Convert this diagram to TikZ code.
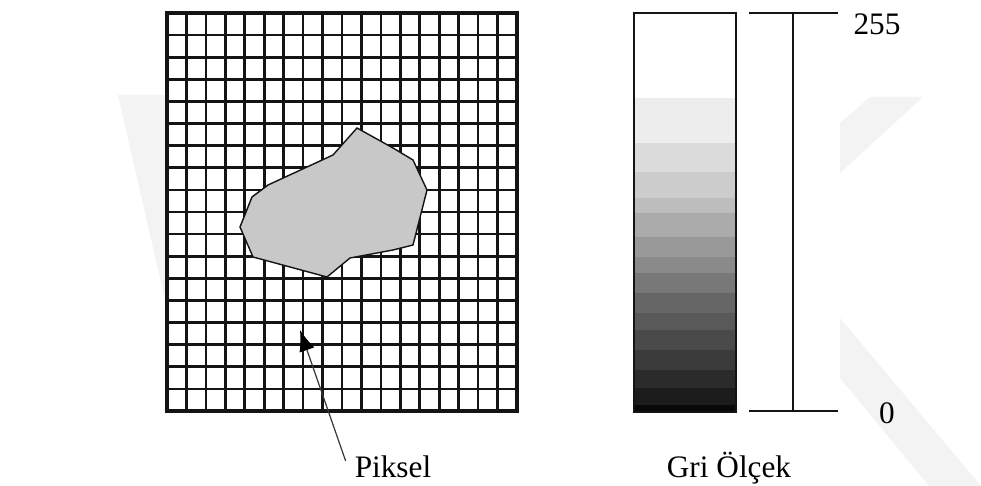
\documentclass[tikz,border=0pt]{standalone}
\usepackage{fontspec}
\setmainfont{Liberation Serif}
\usepackage{tikz}
\usetikzlibrary{arrows.meta, calc}
\definecolor{mBlob}{HTML}{C8C8C8}
\definecolor{mFrame}{HTML}{141414}
\definecolor{mMark}{HTML}{F3F3F3}
\definecolor{mPointer}{HTML}{3A3A3A}

\begin{document}
\begin{tikzpicture}[x=0.02cm, y=-0.02cm,
    gridline/.style={mFrame, line width=1.5pt},
    gridframe/.style={mFrame, line width=2.8pt},
    barline/.style={mFrame, line width=1.4pt},
    label/.style={font=\fontsize{17.8}{20}\selectfont, inner sep=0pt},
    pointer/.style={mPointer, line width=0.7pt, -{Latex[length=12pt, width=9pt, black]}}]
    \useasboundingbox (0,0) rectangle (981,486);
    % faint marks behind the figure
    \fill[mMark] (118,95) -- (165,95) -- (165,300) -- cycle;
    \fill[mMark] (870,97) -- (923,97) -- (840,173) -- (840,123) -- cycle;
    \fill[mMark] (840,318) -- (981,486) -- (929,486) -- (840,378) -- cycle;
    % pixel grid, 18 x 18 cells
    \fill[white] (167,13) rectangle (517,411);
    \foreach \i in {1,...,17} {
      \draw[gridline] ({167+\i*350/18},13) -- ({167+\i*350/18},411);
      \draw[gridline] (167,{13+\i*398/18}) -- (517,{13+\i*398/18});
    }
    \draw[gridframe] (167,13) rectangle (517,411);
    % object lying on the grid
    \draw[mFrame, line width=0.8pt, fill=mBlob] (357,128) -- (393,148) -- (413,160) -- (427,190)
      -- (413,245) -- (393,250) -- (350,258) -- (327,277) -- (253,257) -- (240,227)
      -- (252,197) -- (268,185) -- (333,155) -- cycle;
    % grey bar, white at the top, black at the bottom
    \foreach \ya/\yb/\g in {98/143/7, 143/172/14, 172/198/20, 198/213/26, 213/237/33,
        237/257/40, 257/273/46, 273/293/53, 293/313/60, 313/330/65, 330/350/71,
        350/370/77, 370/388/83, 388/405/89, 405/412/97}
      \fill[black!\g] (634,\ya) rectangle (736,\yb);
    \draw[barline] (634,13) rectangle (736,412);
    % range 0..255
    \draw[barline] (749,13) -- (838,13);
    \draw[barline] (749,411) -- (838,411);
    \draw[barline] (793,13) -- (793,411);
    \node[label, anchor=base] (top) at (877,35) {255};
    \node[label, anchor=base] (bottom) at (887,423) {0};
    \node[label, anchor=base] (piksel) at (393,477) {Piksel};
    \node[label, anchor=base] (gri) at (729,477) {Gri Ölçek};
    \coordinate (pix) at (300,330);
    \draw[pointer] ([xshift=-5pt,yshift=-3.4pt]piksel.north west) -- (pix);
\end{tikzpicture}
\end{document}
